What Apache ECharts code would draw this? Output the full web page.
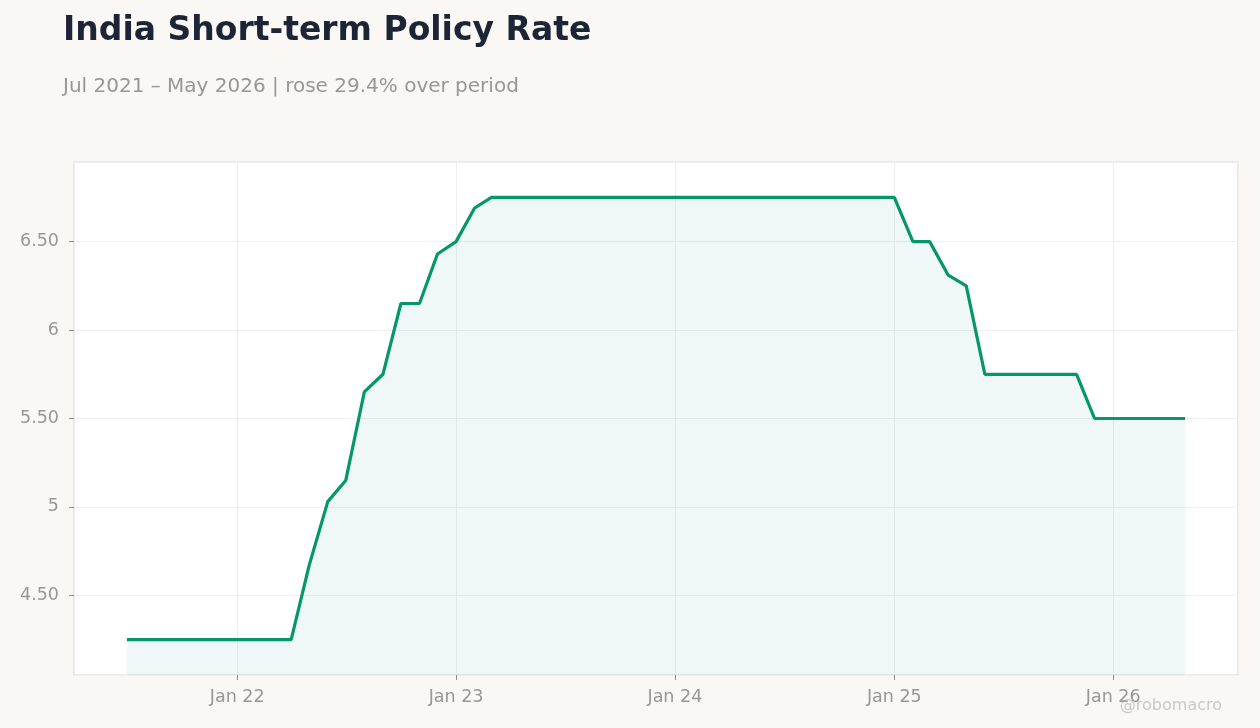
<!DOCTYPE html>
<html>
<head>
<meta charset="utf-8">
<title>India Short-term Policy Rate</title>
<script src="https://cdn.jsdelivr.net/npm/echarts@6/dist/echarts.min.js"></script>
<style>
  html, body { margin: 0; padding: 0; background: #f9f8f5; }
  #chart { width: 1260px; height: 728px; }
</style>
</head>
<body>
<div id="chart"></div>
<script>
// monthly observations, first of month
var months = [
  '2021-07-01', '2021-08-01', '2021-09-01', '2021-10-01', '2021-11-01', '2021-12-01',
  '2022-01-01', '2022-02-01', '2022-03-01', '2022-04-01', '2022-05-01', '2022-06-01',
  '2022-07-01', '2022-08-01', '2022-09-01', '2022-10-01', '2022-11-01', '2022-12-01',
  '2023-01-01', '2023-02-01', '2023-03-01', '2023-04-01', '2023-05-01', '2023-06-01',
  '2023-07-01', '2023-08-01', '2023-09-01', '2023-10-01', '2023-11-01', '2023-12-01',
  '2024-01-01', '2024-02-01', '2024-03-01', '2024-04-01', '2024-05-01', '2024-06-01',
  '2024-07-01', '2024-08-01', '2024-09-01', '2024-10-01', '2024-11-01', '2024-12-01',
  '2025-01-01', '2025-02-01', '2025-03-01', '2025-04-01', '2025-05-01', '2025-06-01',
  '2025-07-01', '2025-08-01', '2025-09-01', '2025-10-01', '2025-11-01', '2025-12-01',
  '2026-01-01', '2026-02-01', '2026-03-01', '2026-04-01', '2026-05-01'
];

var rates = [
  4.25, 4.25, 4.25, 4.25, 4.25, 4.25,
  4.25, 4.25, 4.25, 4.25, 4.67, 5.03,
  5.15, 5.65, 5.75, 6.15, 6.15, 6.43,
  6.50, 6.69, 6.75, 6.75, 6.75, 6.75,
  6.75, 6.75, 6.75, 6.75, 6.75, 6.75,
  6.75, 6.75, 6.75, 6.75, 6.75, 6.75,
  6.75, 6.75, 6.75, 6.75, 6.75, 6.75,
  6.75, 6.50, 6.50, 6.31, 6.25, 5.75,
  5.75, 5.75, 5.75, 5.75, 5.75, 5.50,
  5.50, 5.50, 5.50, 5.50, 5.50
];

var titleText = 'India Short-term Policy Rate';
var subtitleText = 'Jul 2021 \u2013 May 2026 | rose 29.4% over period';
var watermark = '@robomacro';

var seriesData = months.map(function (m, i) {
  return [m, rates[i]];
});

// 5% padding on both ends of the time range
var t0 = new Date(months[0]).getTime();
var t1 = new Date(months[months.length - 1]).getTime();
var pad = (t1 - t0) * 0.05;

var textColor = '#9a9690';
var font = "'DejaVu Sans', sans-serif";

var option = {
  backgroundColor: '#f9f8f5',
  textStyle: { fontFamily: font },
  title: [{
    text: titleText,
    left: 58,
    top: 10,
    textStyle: { fontSize: 33, fontWeight: 'bold', color: '#1c2536', fontFamily: font }
  }, {
    text: subtitleText,
    left: 58,
    top: 72,
    textStyle: { fontSize: 20, fontWeight: 'normal', color: '#9a9690', fontFamily: font }
  }],
  graphic: [{
    type: 'text',
    right: 38,
    bottom: 14,
    style: { text: watermark, fontSize: 16, fill: '#cbc8c3', fontFamily: font }
  }],
  grid: {
    left: 74,
    right: 22,
    top: 162,
    bottom: 53,
    show: true,
    backgroundColor: '#ffffff',
    borderColor: '#dcd8d0',
    borderWidth: 1.2
  },
  xAxis: {
    type: 'time',
    min: t0 - pad,
    max: t1 + pad,
    minInterval: 365 * 24 * 3600 * 1000,
    maxInterval: 366 * 24 * 3600 * 1000,
    axisLine: { show: false },
    axisTick: { show: true, length: 5, lineStyle: { color: '#8e8a85' } },
    axisLabel: {
      color: textColor,
      fontSize: 17.5,
      fontFamily: font,
      margin: 13,
      formatter: function (val) {
        var d = new Date(val);
        return 'Jan ' + String(d.getFullYear()).slice(2);
      }
    },
    splitLine: { show: true, lineStyle: { color: '#efefef', width: 1 } }
  },
  yAxis: {
    type: 'value',
    min: 4.05,
    max: 6.95,
    splitNumber: 5,
    axisLine: { show: false },
    axisTick: { show: true, length: 5, lineStyle: { color: '#8e8a85' } },
    axisLabel: {
      color: textColor,
      fontSize: 17.5,
      fontFamily: font,
      margin: 15,
      showMinLabel: false,
      showMaxLabel: false,
      formatter: function (v) {
        return Math.abs(v - Math.round(v)) < 1e-9 ? String(Math.round(v)) : v.toFixed(2);
      }
    },
    splitLine: { show: true, lineStyle: { color: '#efefef', width: 1 } }
  },
  series: [{
    type: 'line',
    data: seriesData,
    showSymbol: false,
    symbol: 'none',
    lineStyle: { color: '#059669', width: 3.2 },
    itemStyle: { color: '#059669' },
    areaStyle: { color: 'rgba(5,150,105,0.09)', origin: 'start' },
    animation: false
  }]
};

var chart = echarts.init(document.getElementById('chart'));
chart.setOption(option);
</script>
</body>
</html>
